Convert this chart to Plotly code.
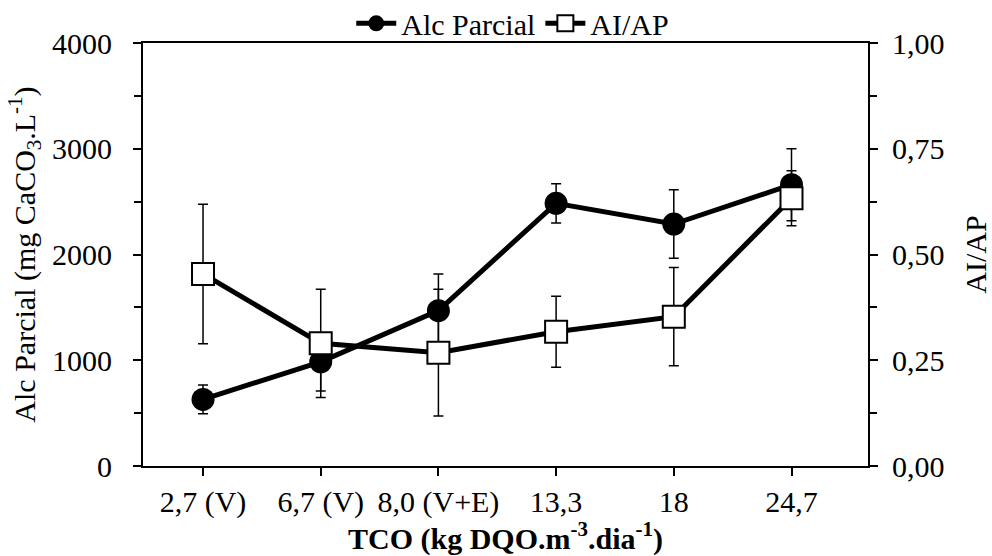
import plotly.graph_objects as go

categories = ["2,7 (V)", "6,7 (V)", "8,0 (V+E)", "13,3", "18", "24,7"]
alc_parcial = [630, 985, 1469, 2484, 2288, 2660]
alc_parcial_err = [135, 275, 347, 186, 324, 340]
ai_ap = [0.454, 0.290, 0.268, 0.3175, 0.353, 0.633]
ai_ap_err = [0.165, 0.128, 0.150, 0.084, 0.116, 0.065]

FONT = "Liberation Serif, Times New Roman, serif"
FS = 30

fig = go.Figure()
fig.add_trace(go.Scatter(
    x=categories, y=alc_parcial, name="Alc Parcial", mode="lines+markers",
    line=dict(color="black", width=5),
    marker=dict(symbol="circle", size=23, color="black"),
    error_y=dict(type="data", array=alc_parcial_err, visible=True,
                 color="black", thickness=1.5, width=5),
    yaxis="y",
))
fig.add_trace(go.Scatter(
    x=categories, y=ai_ap, name="AI/AP", mode="lines+markers",
    line=dict(color="black", width=5),
    marker=dict(symbol="square", size=22, color="white",
                line=dict(color="black", width=2)),
    error_y=dict(type="data", array=ai_ap_err, visible=True,
                 color="black", thickness=1.5, width=5),
    yaxis="y2",
))

fig.update_layout(
    width=992, height=556,
    margin=dict(l=143, r=124, t=43, b=90, autoexpand=False),
    paper_bgcolor="white", plot_bgcolor="white",
    font=dict(family=FONT, size=FS, color="black"),
    separators=",.",
    showlegend=True,
    legend=dict(orientation="h", x=0.51, xanchor="center", y=0.985, yanchor="bottom",
                font=dict(family=FONT, size=FS), bgcolor="rgba(0,0,0,0)",
                itemwidth=40, tracegroupgap=0),
    xaxis=dict(
        type="category", range=[-0.51, 5.65],
        showline=True, linecolor="black", linewidth=2, mirror=True,
        ticks="outside", ticklen=8, tickwidth=1.5, tickcolor="black",
        showgrid=False, zeroline=False,
        tickfont=dict(family=FONT, size=FS),
        title=dict(text="<b>TCO (kg DQO.m<sup>-3</sup>.dia<sup>-1</sup>)</b>",
                   font=dict(family=FONT, size=FS), standoff=0),
        automargin=False,
    ),
    yaxis=dict(
        range=[0, 4000], dtick=1000, tick0=0,
        showline=True, linecolor="black", linewidth=2,
        ticks="outside", ticklen=8, tickwidth=1.5, tickcolor="black",
        minor=dict(dtick=500, ticks="outside", ticklen=7, tickwidth=1.5, tickcolor="black"),
        showgrid=False, zeroline=False,
        tickfont=dict(family=FONT, size=FS),
        ticklabelstandoff=15,
        title=dict(text="Alc Parcial (mg CaCO<sub>3</sub>.L<sup>-1</sup>)",
                   font=dict(family=FONT, size=FS), standoff=8),
        automargin=False,
    ),
    yaxis2=dict(
        range=[0, 1], dtick=0.25, tick0=0, tickformat=".2f",
        overlaying="y", side="right",
        showline=True, linecolor="black", linewidth=2,
        ticks="outside", ticklen=8, tickwidth=1.5, tickcolor="black",
        minor=dict(dtick=0.125, ticks="outside", ticklen=7, tickwidth=1.5, tickcolor="black"),
        showgrid=False, zeroline=False,
        tickfont=dict(family=FONT, size=FS),
        ticklabelstandoff=8,
        title=dict(text="AI/AP", font=dict(family=FONT, size=FS), standoff=24),
        automargin=False,
    ),
)

fig.write_html("out.html", config={"displayModeBar": False},
               post_script="document.body.style.margin='0';")
